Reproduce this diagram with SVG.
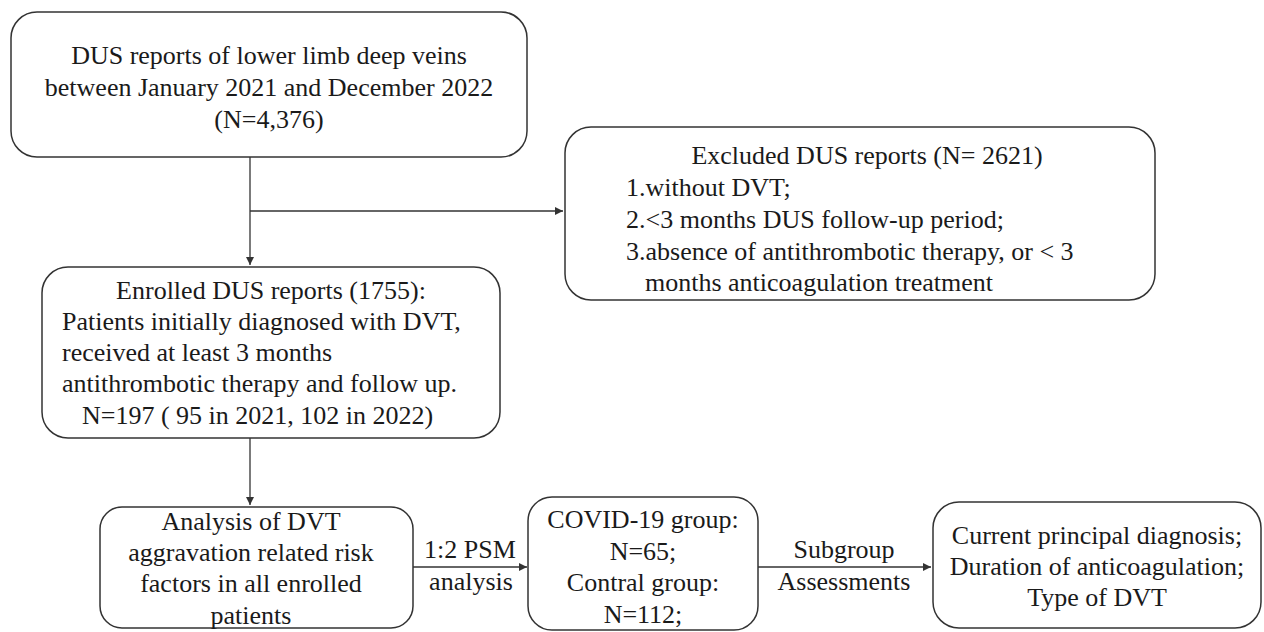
<svg xmlns="http://www.w3.org/2000/svg" width="1264" height="632" viewBox="0 0 1264 632">
<style>
.box{fill:#fff;stroke:#333;stroke-width:1.5}
.t{font-family:"Liberation Serif","Times New Roman",serif;font-size:26px;fill:#1a1a1a}
.c{text-anchor:middle}
.ln{stroke:#333;stroke-width:1.3;fill:none}
</style>
<defs>
<marker id="ah" viewBox="0 0 10 10" refX="10" refY="5" markerWidth="8" markerHeight="8" markerUnits="userSpaceOnUse" orient="auto">
<path d="M0,0 L10,5 L0,10 z" fill="#333"/>
</marker>
</defs>
<rect width="1264" height="632" fill="#fff"/>
<g id="connectors">
<path class="ln" d="M250,157 V265" marker-end="url(#ah)"/>
<path class="ln" d="M250,211 H563" marker-end="url(#ah)"/>
<path class="ln" d="M250,438 V505" marker-end="url(#ah)"/>
<path class="ln" d="M413,567 H527" marker-end="url(#ah)"/>
<path class="ln" d="M758,567 H931" marker-end="url(#ah)"/>
<text class="t c" x="470" y="558">1:2 PSM</text>
<text class="t c" x="471" y="590">analysis</text>
<text class="t c" x="844" y="558">Subgroup</text>
<text class="t c" x="844" y="590">Assessments</text>
</g>
<g id="n1">
<rect class="box" x="11" y="12" width="516" height="145" rx="26"/>
<text class="t c" x="269" y="64">DUS reports of lower limb deep veins</text>
<text class="t c" x="269" y="96">between January 2021 and December 2022</text>
<text class="t c" x="269" y="128">(N=4,376)</text>
</g>
<g id="n2">
<rect class="box" x="565" y="127" width="590" height="173" rx="26"/>
<text class="t c" x="867" y="164">Excluded DUS reports (N= 2621)</text>
<text class="t" x="626" y="196">1.without DVT;</text>
<text class="t" x="626" y="228">2.&lt;3 months DUS follow-up period;</text>
<text class="t" x="626" y="260">3.absence of antithrombotic therapy, or &lt; 3</text>
<text class="t" x="645" y="291">months anticoagulation treatment</text>
</g>
<g id="n3">
<rect class="box" x="42" y="267" width="458" height="171" rx="26"/>
<text class="t c" x="271" y="299">Enrolled DUS reports (1755):</text>
<text class="t" x="62" y="330">Patients initially diagnosed with DVT,</text>
<text class="t" x="62" y="361">received at least 3 months</text>
<text class="t" x="62" y="392">antithrombotic therapy and follow up.</text>
<text class="t" x="82" y="424">N=197 ( 95 in 2021, 102 in 2022)</text>
</g>
<g id="n4">
<rect class="box" x="100" y="507" width="313" height="121" rx="22"/>
<text class="t c" x="251" y="530">Analysis of DVT</text>
<text class="t c" x="251" y="561">aggravation related risk</text>
<text class="t c" x="251" y="592">factors in all enrolled</text>
<text class="t c" x="251" y="624">patients</text>
</g>
<g id="n5">
<rect class="box" x="528" y="497" width="230" height="133" rx="24"/>
<text class="t c" x="643" y="528">COVID-19 group:</text>
<text class="t c" x="643" y="560">N=65;</text>
<text class="t c" x="643" y="591">Contral group:</text>
<text class="t c" x="643" y="623">N=112;</text>
</g>
<g id="n6">
<rect class="box" x="933" y="502" width="328" height="126" rx="26"/>
<text class="t c" x="1097" y="544">Current principal diagnosis;</text>
<text class="t c" x="1097" y="575">Duration of anticoagulation;</text>
<text class="t c" x="1097" y="606">Type of DVT</text>
</g>
</svg>
